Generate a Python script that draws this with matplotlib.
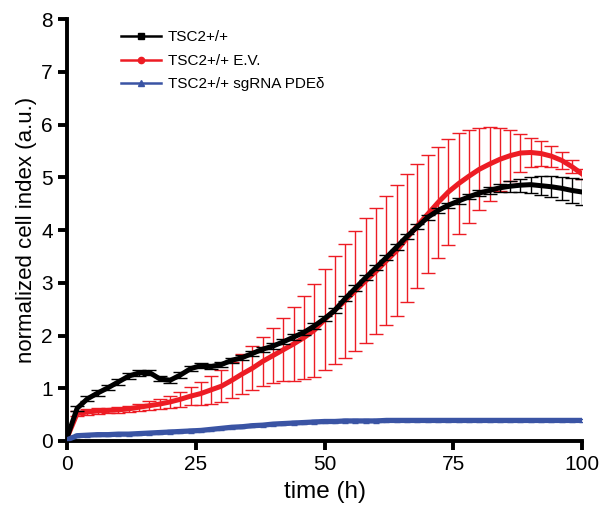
import matplotlib.pyplot as plt
from matplotlib.lines import Line2D

plt.rcParams['font.family'] = ['Liberation Sans', 'DejaVu Sans']

# time points (h)
time_h = [0, 2, 4, 6, 8, 10, 12, 14, 16, 18, 20, 22, 24, 26, 28, 30, 32, 34, 36, 38,
          40, 42, 44, 46, 48, 50, 52, 54, 56, 58, 60, 62, 64, 66, 68, 70, 72, 74, 76, 78,
          80, 82, 84, 86, 88, 90, 92, 94, 96, 98, 100]

# TSC2+/+
wt_mean = [0.05, 0.62, 0.80, 0.91, 1.01, 1.12, 1.23, 1.29, 1.30, 1.18, 1.15, 1.25, 1.37, 1.43, 1.41,
           1.45, 1.53, 1.58, 1.66, 1.74, 1.80, 1.88, 1.97, 2.06, 2.18, 2.32, 2.48, 2.70, 2.90, 3.10,
           3.29, 3.48, 3.68, 3.88, 4.06, 4.24, 4.37, 4.47, 4.55, 4.63, 4.70, 4.75, 4.80, 4.83, 4.85,
           4.86, 4.84, 4.82, 4.79, 4.75, 4.72]
wt_err = [0.04, 0.05, 0.05, 0.05, 0.05, 0.05, 0.05, 0.05, 0.05, 0.05, 0.05, 0.05, 0.05, 0.05, 0.05,
          0.05, 0.05, 0.05, 0.05, 0.05, 0.05, 0.05, 0.05, 0.05, 0.05, 0.05, 0.05, 0.05, 0.05, 0.05,
          0.05, 0.05, 0.05, 0.05, 0.05, 0.05, 0.05, 0.05, 0.05, 0.05, 0.06, 0.07, 0.08, 0.10, 0.12,
          0.15, 0.18, 0.20, 0.22, 0.24, 0.25]

# TSC2+/+ E.V.
ev_mean = [0.05, 0.52, 0.55, 0.57, 0.58, 0.59, 0.61, 0.64, 0.67, 0.70, 0.74, 0.79, 0.85, 0.90, 0.97,
           1.04, 1.15, 1.27, 1.38, 1.51, 1.62, 1.73, 1.84, 1.96, 2.10, 2.30, 2.48, 2.66, 2.85, 3.04,
           3.22, 3.42, 3.61, 3.85, 4.08, 4.30, 4.52, 4.72, 4.88, 5.02, 5.15, 5.25, 5.34, 5.41, 5.46,
           5.47, 5.45, 5.40, 5.32, 5.20, 5.06]
ev_err = [0.04, 0.05, 0.05, 0.05, 0.05, 0.05, 0.06, 0.07, 0.08, 0.10, 0.12, 0.14, 0.17, 0.22, 0.27,
          0.30, 0.34, 0.38, 0.42, 0.46, 0.52, 0.60, 0.70, 0.78, 0.88, 0.96, 1.02, 1.08, 1.14, 1.18,
          1.20, 1.22, 1.24, 1.22, 1.18, 1.12, 1.06, 1.00, 0.96, 0.88, 0.78, 0.70, 0.60, 0.48, 0.36,
          0.28, 0.24, 0.20, 0.16, 0.12, 0.10]

# TSC2+/+ sgRNA PDEδ
sg_mean = [0.02, 0.10, 0.11, 0.12, 0.12, 0.13, 0.13, 0.14, 0.15, 0.16, 0.17, 0.18, 0.19, 0.20, 0.22,
           0.24, 0.26, 0.27, 0.29, 0.30, 0.32, 0.33, 0.34, 0.35, 0.36, 0.37, 0.37, 0.38, 0.38, 0.38,
           0.38, 0.39, 0.39, 0.39, 0.39, 0.39, 0.39, 0.39, 0.39, 0.39, 0.39, 0.39, 0.39, 0.39, 0.39,
           0.39, 0.39, 0.39, 0.39, 0.39, 0.39]
sg_err = [0.03] * len(time_h)

labels = ['TSC2+/+', 'TSC2+/+ E.V.', 'TSC2+/+ sgRNA PDE\u03b4']
col_black = '#000000'
col_red = '#ed1c24'
col_blue = '#3a54a4'

fig = plt.figure(figsize=(6.04, 5.24), dpi=100)
ax = fig.add_axes([0.1106, 0.1584, 0.8535, 0.8053])

ax.errorbar(time_h, ev_mean, yerr=ev_err, color=col_red, lw=3.6, elinewidth=1.0,
            capsize=5, capthick=1.0, zorder=2)
ax.errorbar(time_h, wt_mean, yerr=wt_err, color=col_black, lw=3.6, elinewidth=1.0,
            capsize=5, capthick=1.0, zorder=3)
ax.errorbar(time_h, sg_mean, yerr=sg_err, color=col_blue, lw=3.8, elinewidth=1.0,
            capsize=2.5, capthick=1.0, zorder=4)

ax.set_xlim(0, 100)
ax.set_ylim(0, 8)
ax.set_xticks([0, 25, 50, 75, 100])
ax.set_yticks(range(0, 9))
for s in ['top', 'right']:
    ax.spines[s].set_visible(False)
for s in ['left', 'bottom']:
    ax.spines[s].set_linewidth(2.8)
ax.tick_params(width=2.8, length=6.5, labelsize=15, pad=3.5, direction='out')

ax.set_xlabel('time (h)', fontsize=17.5, labelpad=5)
ax.set_ylabel('normalized cell index (a.u.)', fontsize=16, labelpad=3)

handles = [
    Line2D([], [], color=col_black, lw=1.8, marker='s', markersize=4),
    Line2D([], [], color=col_red, lw=1.8, marker='o', markersize=4.5),
    Line2D([], [], color=col_blue, lw=1.8, marker='^', markersize=4.5),
]
ax.legend(handles, labels, loc='upper left', bbox_to_anchor=(0.105, 0.973), frameon=False,
          fontsize=11, handlelength=2.6, handletextpad=0.45, labelspacing=0.62,
          borderpad=0, borderaxespad=0)

fig.savefig('out.png', dpi=100)
